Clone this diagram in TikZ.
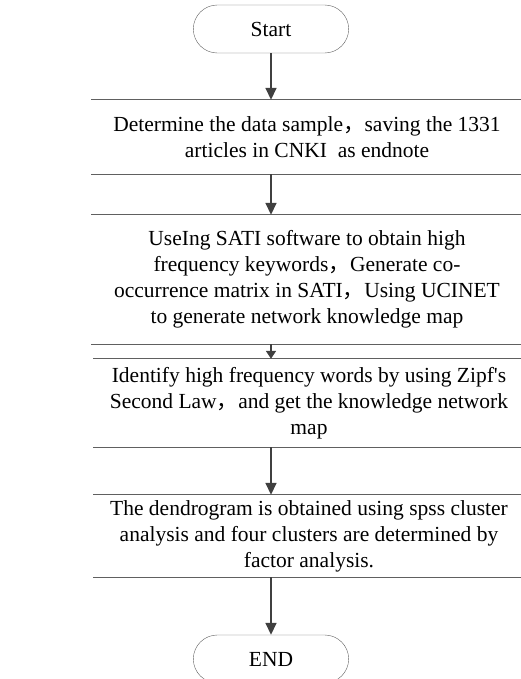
\documentclass[tikz,border=0pt]{standalone}
\usepackage{fontspec}
\setmainfont{Liberation Serif}
\newfontfamily\cjk{Noto Sans CJK SC}
\usetikzlibrary{shapes.misc,arrows.meta}
\definecolor{linegray}{RGB}{96,96,96}
\definecolor{arrowgray}{RGB}{64,64,64}
\begin{document}
\begin{tikzpicture}
[x=1pt,y=-1pt,
  terminal/.style={shape=rounded rectangle,draw=linegray,thin,minimum width=162pt,minimum height=48pt,font=\fontsize{21.5}{24}\selectfont},%
  stepbox/.style={minimum width=431pt,inner sep=0pt,align=center,font=\fontsize{21.5}{26}\selectfont},%
  boxline/.style={-,draw=linegray,line width=1pt},%
  flowarrow/.style={-{Triangle[width=11pt,length=12pt]},draw=arrowgray,line width=1.6pt}]
\useasboundingbox (0,0) rectangle (521,679);
%%% start and end
\node (start) at (271,29) [terminal] {Start};
\node (end) at (271,659) [terminal] {END};
%%% steps
\node (s1) at (307,137) [stepbox,minimum height=74pt] {Determine the data sample{\cjk ，}saving the 1331\\ articles in CNKI\ \ as endnote};
\node (s2) at (307,279.5) [stepbox,minimum height=129pt] {UseIng SATI software to obtain high\\ frequency keywords{\cjk ，}Generate co-\\ occurrence matrix in SATI{\cjk ，}Using UCINET\\ to generate network knowledge map};
\node (s3) at (309,403) [stepbox,minimum height=88pt] {Identify high frequency words by using Zipf\textquotesingle s\\ Second Law{\cjk ，}and get the knowledge network\\ map};
\node (s4) at (309,536) [stepbox,minimum height=82pt] {The dendrogram is obtained using spss cluster\\ analysis and four clusters are determined by\\ factor analysis.};
% top and bottom rules of the steps
\foreach \s in {s1,s2,s3,s4}{
  \draw[boxline] (\s.north west) -- (\s.north east);
  \draw[boxline] (\s.south west) -- (\s.south east);
}
% arrows
\draw[flowarrow] (start.south) -- (start.south |- s1.north);
\draw[flowarrow] (start.south |- s1.south) -- (start.south |- s2.north);
\draw[flowarrow,-{Triangle[width=10pt,length=8pt]}] (start.south |- s2.south) -- (start.south |- s3.north);
\draw[flowarrow] (start.south |- s3.south) -- (start.south |- s4.north);
\draw[flowarrow] (start.south |- s4.south) -- (end.north);
\end{tikzpicture}
\end{document}
